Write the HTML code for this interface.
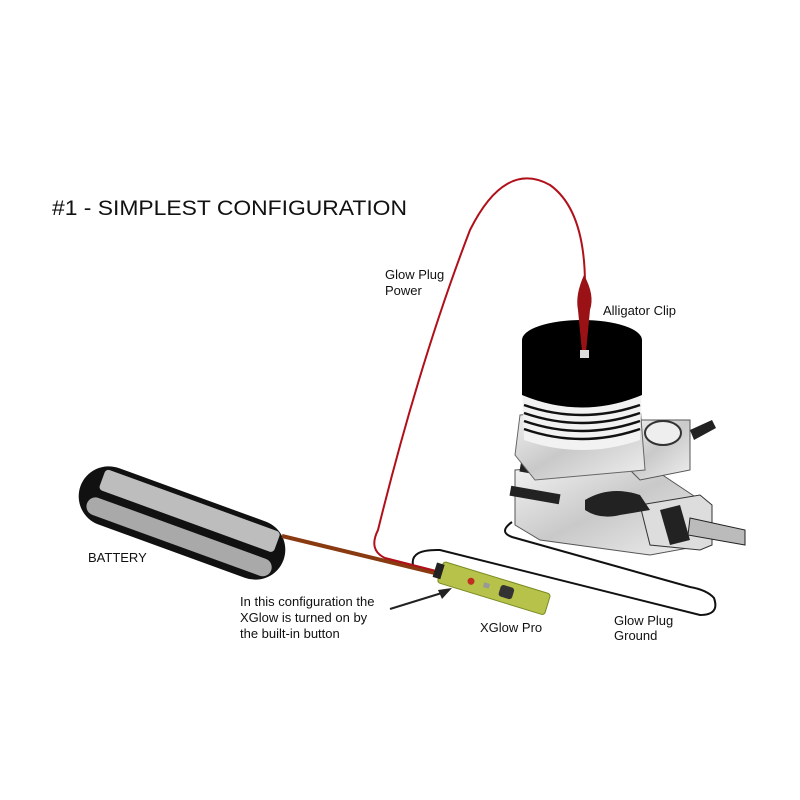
<!DOCTYPE html>
<html><head><style>
html,body{margin:0;padding:0;background:#fff;}
svg{display:block}
text{font-family:"Liberation Sans",Arial,sans-serif;fill:#111}
</style></head><body>
<svg width="800" height="800" viewBox="0 0 800 800">
<defs>
<linearGradient id="met" x1="0" y1="0" x2="1" y2="1">
<stop offset="0" stop-color="#f4f4f4"/><stop offset=".5" stop-color="#c9c9c9"/><stop offset="1" stop-color="#efefef"/>
</linearGradient>
</defs>
<text x="52" y="215" font-size="21" textLength="355" lengthAdjust="spacingAndGlyphs">#1 - SIMPLEST CONFIGURATION</text>
<text x="385" y="279" font-size="13">Glow Plug</text>
<text x="385" y="295" font-size="13">Power</text>
<text x="603" y="315" font-size="13">Alligator Clip</text>
<text x="88" y="562" font-size="13">BATTERY</text>
<text x="240" y="606" font-size="13">In this configuration the</text>
<text x="240" y="622" font-size="13">XGlow is turned on by</text>
<text x="240" y="638" font-size="13">the built-in button</text>
<text x="480" y="632" font-size="13">XGlow Pro</text>
<text x="614" y="625" font-size="13">Glow Plug</text>
<text x="614" y="640" font-size="13">Ground</text>

<!-- ground wire -->
<path d="M413,565 Q410,549 440,550 L700,615 Q720,615 714,598 Q707,590 690,587 L512,537 Q498,532 512,522" fill="none" stroke="#111" stroke-width="2"/>

<!-- engine crankcase -->
<path d="M515,470 L640,460 L700,500 L705,545 L650,555 L540,540 L515,525 Z" fill="url(#met)" stroke="#555" stroke-width="1"/>
<rect x="520" y="465" width="40" height="10" fill="#222" transform="rotate(10 540 470)"/>
<rect x="510" y="490" width="50" height="10" fill="#222" transform="rotate(10 535 495)"/>
<path d="M640,505 L700,495 L712,505 L712,545 L700,550 L650,545 Z" fill="#ddd" stroke="#333"/>
<path d="M660,510 L680,505 L690,540 L670,545 Z" fill="#222"/>
<path d="M690,518 L745,530 L745,545 L688,535 Z" fill="#bbb" stroke="#222"/>
<path d="M585,500 Q610,485 640,495 L650,510 L620,515 Q600,520 585,510 Z" fill="#222"/>
<!-- carb -->
<path d="M625,420 L690,420 L690,470 L640,480 L620,460 Z" fill="url(#met)" stroke="#555"/>
<ellipse cx="663" cy="433" rx="18" ry="12" fill="#eee" stroke="#333" stroke-width="2"/>
<path d="M690,430 L712,420 L716,428 L694,440 Z" fill="#222"/>
<!-- cylinder -->
<path d="M520,415 L640,405 L645,470 L535,480 L515,455 Z" fill="url(#met)" stroke="#666"/>
<path d="M522,385 L642,385 L640,440 Q582,460 524,440 Z" fill="#f2f2f2"/>
<g stroke="#111" stroke-width="2.5" fill="none">
<path d="M524,405 Q582,425 640,405"/><path d="M524,413 Q582,433 640,413"/><path d="M524,421 Q582,441 640,421"/><path d="M524,429 Q582,449 640,429"/>
</g>
<path d="M522,340 L642,340 L642,395 Q582,420 522,395 Z" fill="#000"/>
<ellipse cx="582" cy="340" rx="60" ry="20" fill="#000"/>

<!-- battery -->
<g transform="rotate(20 182 523)">
<rect x="74" y="493" width="216" height="60" rx="30" fill="#111"/>
<rect x="92" y="498" width="186" height="22" rx="4" fill="#bdbdbd"/>
<rect x="86" y="528" width="196" height="18" rx="9" fill="#a9a9a9"/>
</g>
<!-- battery lead -->
<path d="M282,536 L435,573" stroke="#8a3a10" stroke-width="4" fill="none"/>

<!-- red power wire -->
<path d="M440,572 L385,558 Q368,550 378,530 Q420,360 470,230 Q505,160 550,185 Q585,210 585,285" fill="none" stroke="#b0101a" stroke-width="2"/>
<!-- clip -->
<path d="M584,275 Q595,295 590,310 L586,352 L582,352 L578,310 Q575,295 584,275 Z" fill="#9a1216"/>
<rect x="580" y="350" width="9" height="8" fill="#ddd"/>

<!-- xglow -->
<g transform="rotate(17 493 588)">
<rect x="438" y="577" width="112" height="22" rx="3" fill="#b6c24a" stroke="#7a8a20"/>
<rect x="432" y="580" width="8" height="15" fill="#222"/>
<circle cx="470" cy="588" r="3.5" fill="#c03020"/>
<rect x="483" y="585" width="6" height="5" fill="#999"/>
<rect x="500" y="582" width="14" height="12" rx="3" fill="#333"/>
</g>
<!-- arrow -->
<line x1="390" y1="609" x2="445" y2="592" stroke="#222" stroke-width="2"/>
<path d="M452,588 L438,590 L442,599 Z" fill="#222"/>
</svg>
</body></html>
